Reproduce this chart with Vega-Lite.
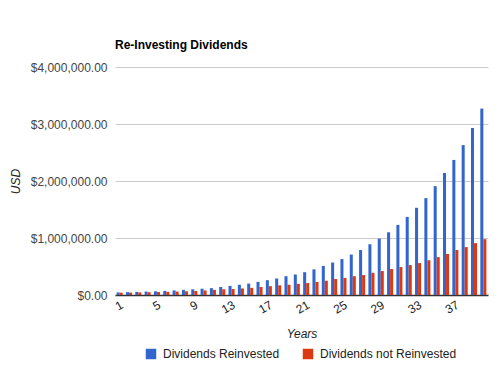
{
  "$schema": "https://vega.github.io/schema/vega-lite/v6.json",
  "width": 373,
  "height": 228,
  "autosize": "none",
  "padding": {"left": 115, "top": 67, "right": 13, "bottom": 71},
  "background": "white",
  "title": {
    "text": "Re-Investing Dividends",
    "anchor": "start",
    "frame": "group",
    "font": "Liberation Sans",
    "fontSize": 12,
    "fontWeight": "bold",
    "color": "#000000",
    "baseline": "alphabetic",
    "offset": 0
  },
  "config": {
    "view": {"stroke": null},
    "font": "Liberation Sans"
  },
  "datasets": {
    "rows": [
      {"year": 1, "series": "Dividends Reinvested", "value": 45000},
      {"year": 2, "series": "Dividends Reinvested", "value": 50000},
      {"year": 3, "series": "Dividends Reinvested", "value": 55000},
      {"year": 4, "series": "Dividends Reinvested", "value": 60000},
      {"year": 5, "series": "Dividends Reinvested", "value": 65000},
      {"year": 6, "series": "Dividends Reinvested", "value": 72000},
      {"year": 7, "series": "Dividends Reinvested", "value": 80000},
      {"year": 8, "series": "Dividends Reinvested", "value": 90000},
      {"year": 9, "series": "Dividends Reinvested", "value": 100000},
      {"year": 10, "series": "Dividends Reinvested", "value": 110000},
      {"year": 11, "series": "Dividends Reinvested", "value": 120000},
      {"year": 12, "series": "Dividends Reinvested", "value": 140000},
      {"year": 13, "series": "Dividends Reinvested", "value": 160000},
      {"year": 14, "series": "Dividends Reinvested", "value": 180000},
      {"year": 15, "series": "Dividends Reinvested", "value": 200000},
      {"year": 16, "series": "Dividends Reinvested", "value": 230000},
      {"year": 17, "series": "Dividends Reinvested", "value": 260000},
      {"year": 18, "series": "Dividends Reinvested", "value": 290000},
      {"year": 19, "series": "Dividends Reinvested", "value": 330000},
      {"year": 20, "series": "Dividends Reinvested", "value": 360000},
      {"year": 21, "series": "Dividends Reinvested", "value": 400000},
      {"year": 22, "series": "Dividends Reinvested", "value": 450000},
      {"year": 23, "series": "Dividends Reinvested", "value": 510000},
      {"year": 24, "series": "Dividends Reinvested", "value": 570000},
      {"year": 25, "series": "Dividends Reinvested", "value": 630000},
      {"year": 26, "series": "Dividends Reinvested", "value": 710000},
      {"year": 27, "series": "Dividends Reinvested", "value": 790000},
      {"year": 28, "series": "Dividends Reinvested", "value": 890000},
      {"year": 29, "series": "Dividends Reinvested", "value": 990000},
      {"year": 30, "series": "Dividends Reinvested", "value": 1100000},
      {"year": 31, "series": "Dividends Reinvested", "value": 1230000},
      {"year": 32, "series": "Dividends Reinvested", "value": 1370000},
      {"year": 33, "series": "Dividends Reinvested", "value": 1530000},
      {"year": 34, "series": "Dividends Reinvested", "value": 1700000},
      {"year": 35, "series": "Dividends Reinvested", "value": 1910000},
      {"year": 36, "series": "Dividends Reinvested", "value": 2140000},
      {"year": 37, "series": "Dividends Reinvested", "value": 2370000},
      {"year": 38, "series": "Dividends Reinvested", "value": 2630000},
      {"year": 39, "series": "Dividends Reinvested", "value": 2930000},
      {"year": 40, "series": "Dividends Reinvested", "value": 3270000},
      {"year": 1, "series": "Dividends not Reinvested", "value": 40000},
      {"year": 2, "series": "Dividends not Reinvested", "value": 42000},
      {"year": 3, "series": "Dividends not Reinvested", "value": 45000},
      {"year": 4, "series": "Dividends not Reinvested", "value": 48000},
      {"year": 5, "series": "Dividends not Reinvested", "value": 52000},
      {"year": 6, "series": "Dividends not Reinvested", "value": 56000},
      {"year": 7, "series": "Dividends not Reinvested", "value": 60000},
      {"year": 8, "series": "Dividends not Reinvested", "value": 65000},
      {"year": 9, "series": "Dividends not Reinvested", "value": 70000},
      {"year": 10, "series": "Dividends not Reinvested", "value": 80000},
      {"year": 11, "series": "Dividends not Reinvested", "value": 90000},
      {"year": 12, "series": "Dividends not Reinvested", "value": 100000},
      {"year": 13, "series": "Dividends not Reinvested", "value": 105000},
      {"year": 14, "series": "Dividends not Reinvested", "value": 115000},
      {"year": 15, "series": "Dividends not Reinvested", "value": 125000},
      {"year": 16, "series": "Dividends not Reinvested", "value": 140000},
      {"year": 17, "series": "Dividends not Reinvested", "value": 155000},
      {"year": 18, "series": "Dividends not Reinvested", "value": 170000},
      {"year": 19, "series": "Dividends not Reinvested", "value": 180000},
      {"year": 20, "series": "Dividends not Reinvested", "value": 195000},
      {"year": 21, "series": "Dividends not Reinvested", "value": 210000},
      {"year": 22, "series": "Dividends not Reinvested", "value": 230000},
      {"year": 23, "series": "Dividends not Reinvested", "value": 250000},
      {"year": 24, "series": "Dividends not Reinvested", "value": 280000},
      {"year": 25, "series": "Dividends not Reinvested", "value": 300000},
      {"year": 26, "series": "Dividends not Reinvested", "value": 330000},
      {"year": 27, "series": "Dividends not Reinvested", "value": 350000},
      {"year": 28, "series": "Dividends not Reinvested", "value": 390000},
      {"year": 29, "series": "Dividends not Reinvested", "value": 420000},
      {"year": 30, "series": "Dividends not Reinvested", "value": 455000},
      {"year": 31, "series": "Dividends not Reinvested", "value": 490000},
      {"year": 32, "series": "Dividends not Reinvested", "value": 525000},
      {"year": 33, "series": "Dividends not Reinvested", "value": 560000},
      {"year": 34, "series": "Dividends not Reinvested", "value": 610000},
      {"year": 35, "series": "Dividends not Reinvested", "value": 665000},
      {"year": 36, "series": "Dividends not Reinvested", "value": 720000},
      {"year": 37, "series": "Dividends not Reinvested", "value": 790000},
      {"year": 38, "series": "Dividends not Reinvested", "value": 840000},
      {"year": 39, "series": "Dividends not Reinvested", "value": 910000},
      {"year": 40, "series": "Dividends not Reinvested", "value": 980000}
    ]
  },
  "data": {"name": "rows"},
  "mark": {"type": "bar"},
  "encoding": {
    "x": {
      "field": "year",
      "type": "ordinal",
      "scale": {"paddingInner": 0.35, "paddingOuter": 0.175},
      "axis": {
        "title": "Years",
        "titleFont": "Liberation Sans",
        "titleFontStyle": "italic",
        "titleFontWeight": "normal",
        "titleFontSize": 12,
        "titleColor": "#222222",
        "titlePadding": 13,
        "values": [1, 5, 9, 13, 17, 21, 25, 29, 33, 37],
        "labelAngle": -30,
        "labelAlign": "right",
        "labelBaseline": "top",
        "labelFontSize": 12,
        "labelColor": "#222222",
        "labelPadding": 4,
        "ticks": false,
        "domainColor": "#333333",
        "domainWidth": 1.5,
        "grid": false
      }
    },
    "xOffset": {
      "field": "series",
      "type": "nominal",
      "sort": ["Dividends Reinvested", "Dividends not Reinvested"],
      "scale": {"paddingInner": 0, "paddingOuter": 0}
    },
    "y": {
      "field": "value",
      "type": "quantitative",
      "scale": {"domain": [0, 4000000]},
      "axis": {
        "title": "USD",
        "titleFont": "Liberation Sans",
        "titleFontStyle": "italic",
        "titleFontWeight": "normal",
        "titleFontSize": 12,
        "titleColor": "#222222",
        "titleAngle": -90,
        "titleX": -100,
        "titleY": 114,
        "titleAlign": "center",
        "titleBaseline": "middle",
        "values": [0, 1000000, 2000000, 3000000, 4000000],
        "format": "$,.2f",
        "labelFontSize": 12,
        "labelColor": "#444444",
        "labelPadding": 8,
        "ticks": false,
        "domain": false,
        "gridColor": "#cccccc",
        "gridWidth": 1
      }
    },
    "color": {
      "field": "series",
      "type": "nominal",
      "scale": {
        "domain": ["Dividends Reinvested", "Dividends not Reinvested"],
        "range": ["#3366cc", "#dc3912"]
      },
      "legend": {
        "title": null,
        "orient": "none",
        "legendX": 30,
        "legendY": 281,
        "direction": "horizontal",
        "symbolType": "square",
        "symbolSize": 110,
        "symbolStrokeWidth": 0,
        "labelFontSize": 12,
        "labelColor": "#222222",
        "labelFont": "Liberation Sans",
        "columnPadding": 22,
        "labelOffset": 6
      }
    }
  }
}
